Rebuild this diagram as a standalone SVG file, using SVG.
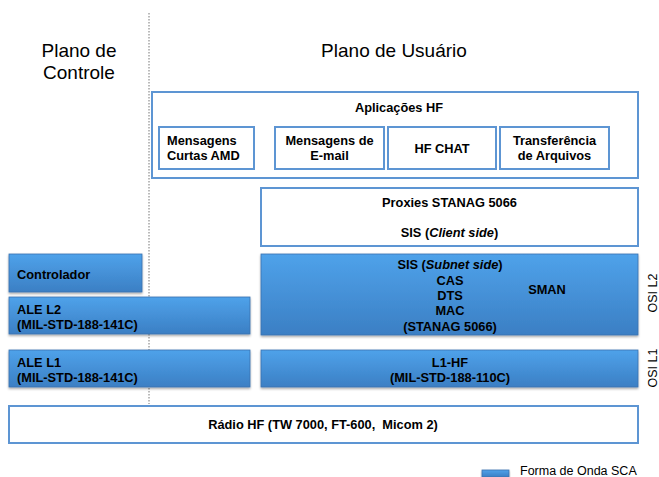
<svg xmlns="http://www.w3.org/2000/svg" width="659" height="477" viewBox="0 0 659 477">
<defs>
<linearGradient id="blue" x1="0" y1="0" x2="0" y2="1">
<stop offset="0" stop-color="#4fa2ea"/>
<stop offset="1" stop-color="#3b7fc4"/>
</linearGradient>
<filter id="sh" x="-5%" y="-10%" width="110%" height="130%">
<feDropShadow dx="0" dy="1.5" stdDeviation="1" flood-color="#000" flood-opacity="0.35"/>
</filter>
</defs>
<style>
.t{font-family:"Liberation Sans",Arial,sans-serif;font-size:12.8px;font-weight:bold;fill:#000}
.c{text-anchor:middle}
.h{font-family:"Liberation Sans",Arial,sans-serif;font-size:19px;fill:#000;text-anchor:middle}
.o{font-family:"Liberation Sans",Arial,sans-serif;font-size:12.5px;fill:#000;text-anchor:middle}
.w{fill:#fff;stroke:#5d95d3;stroke-width:2}
.b{fill:url(#blue);stroke:#3a72b0;stroke-width:0.8;filter:url(#sh)}
</style>
<rect width="659" height="477" fill="#fff"/>
<line x1="149" y1="13" x2="149" y2="404" stroke="#777" stroke-width="1" stroke-dasharray="1.5,1.5"/>
<g id="titles">
<text class="h" x="79" y="57">Plano de</text>
<text class="h" x="79" y="79">Controle</text>
<text class="h" x="394" y="57">Plano de Usuário</text>
</g>
<g id="aplicacoes">
<rect class="w" x="152" y="92" width="486" height="86"/>
<text class="t c" x="399" y="112">Aplicações HF</text>
</g>
<g id="amd">
<rect class="w" x="159" y="127" width="95" height="42"/>
<text class="t" x="167" y="145">Mensagens</text>
<text class="t" x="167" y="160">Curtas AMD</text>
</g>
<g id="email">
<rect class="w" x="275" y="127" width="109" height="42"/>
<text class="t c" x="329.500" y="145">Mensagens de</text>
<text class="t c" x="329.500" y="160">E-mail</text>
</g>
<g id="chat">
<rect class="w" x="388" y="127" width="108" height="42"/>
<text class="t c" x="442" y="153">HF CHAT</text>
</g>
<g id="arquivos">
<rect class="w" x="500" y="127" width="109" height="42"/>
<text class="t c" x="554.500" y="145">Transferência</text>
<text class="t c" x="554.500" y="160">de Arquivos</text>
</g>
<g id="proxies">
<rect class="w" x="261" y="188" width="377" height="58"/>
<text class="t c" x="449.500" y="207">Proxies STANAG 5066</text>
<text class="t c" x="449.500" y="237">SIS (<tspan font-style="italic">Client side</tspan>)</text>
</g>
<g id="controlador">
<rect class="b" x="9" y="254" width="133" height="38"/>
<text class="t" x="17" y="279">Controlador</text>
</g>
<g id="ale-l2">
<rect class="b" x="9" y="297" width="241" height="37"/>
<text class="t" x="17" y="314">ALE L2</text>
<text class="t" x="17" y="329">(MIL-STD-188-141C)</text>
</g>
<g id="sis">
<rect class="b" x="261" y="254" width="377" height="81"/>
<text class="t c" x="450" y="269">SIS (<tspan font-style="italic">Subnet side</tspan>)</text>
<text class="t c" x="450" y="285">CAS</text>
<text class="t c" x="450" y="300">DTS</text>
<text class="t c" x="450" y="315">MAC</text>
<text class="t c" x="450" y="331">(STANAG 5066)</text>
<text class="t c" x="547" y="294">SMAN</text>
</g>
<g id="ale-l1">
<rect class="b" x="9" y="350" width="241" height="37"/>
<text class="t" x="17" y="367">ALE L1</text>
<text class="t" x="17" y="382">(MIL-STD-188-141C)</text>
</g>
<g id="l1-hf">
<rect class="b" x="261" y="350" width="377" height="37"/>
<text class="t c" x="450" y="367">L1-HF</text>
<text class="t c" x="450" y="382">(MIL-STD-188-110C)</text>
</g>
<g id="radio">
<rect class="w" x="9" y="406" width="629" height="37"/>
<text class="t c" x="323" y="429" xml:space="preserve">Rádio HF (TW 7000, FT-600,  Micom 2)</text>
</g>
<g id="osi">
<text class="o" transform="translate(657,293) rotate(-90)">OSI L2</text>
<text class="o" transform="translate(657,368) rotate(-90)">OSI L1</text>
</g>
<g id="legend">
<rect class="b" x="482" y="470" width="27" height="7"/>
<text x="520" y="475" font-family="Liberation Sans, Arial, sans-serif" font-size="12.5px" fill="#000">Forma de Onda SCA</text>
</g>
<g id="connectors"></g>
</svg>
